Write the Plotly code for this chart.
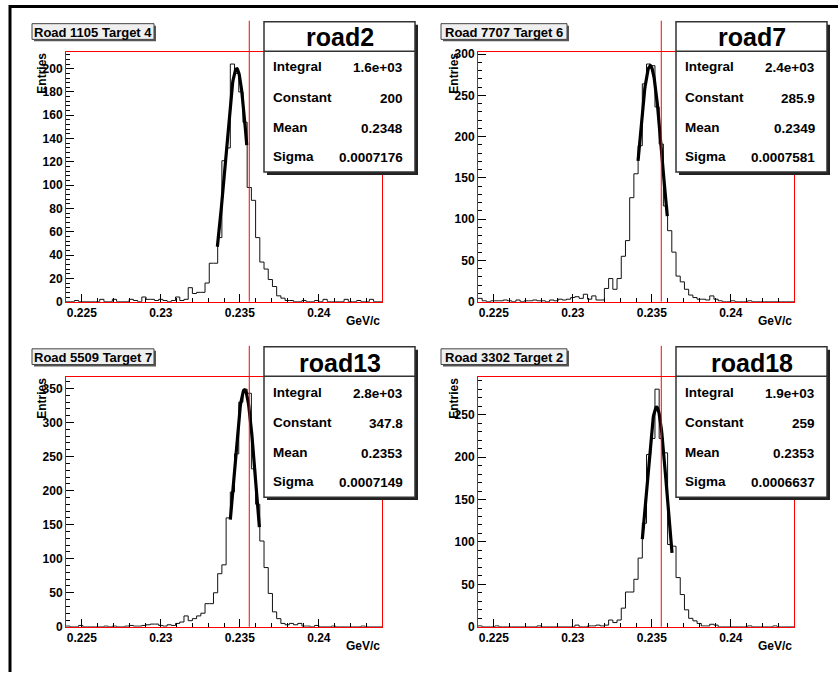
import numpy as np
import plotly.graph_objects as go

W, H = 838, 679
X_MIN, X_MAX, N_BINS = 0.224, 0.244, 75

# ---------------- data ----------------
pad_titles = ["Road 1105 Target 4", "Road 7707 Target 6", "Road 5509 Target 7", "Road 3302 Target 2"]
stat_names = ["road2", "road7", "road13", "road18"]
integral_txt = ["1.6e+03", "2.4e+03", "2.8e+03", "1.9e+03"]
constant_txt = ["200", "285.9", "347.8", "259"]
mean_txt = ["0.2348", "0.2349", "0.2353", "0.2353"]
sigma_txt = ["0.0007176", "0.0007581", "0.0007149", "0.0006637"]
constants = [200.0, 285.9, 347.8, 259.0]
means = [0.2348, 0.2349, 0.2353, 0.2353]
sigmas = [0.0007176, 0.0007581, 0.0007149, 0.0006637]
fit_lo = [0.23358, 0.23413, 0.2344, 0.2344]
fit_hi = [0.23544, 0.23598, 0.23624, 0.23628]
ref_value = 0.2356
x_tick_vals = [0.225, 0.23, 0.235, 0.24]
x_tick_text = ["0.225", "0.23", "0.235", "0.24"]
y_major = [20, 50, 50, 50]
y_minor = [4, 10, 10, 10]

counts_road2 = [0, 0, 1, 0, 0, 0, 0, 0, 2, 0,
                0, 2, 0, 0, 0, 2, 1, 0, 4, 2,
                2, 1, 2, 1, 0, 1, 4, 1, 2, 12,
                7, 8, 8, 16, 33, 33, 55, 121, 132, 204,
                196, 180, 154, 98, 87, 55, 34, 28, 19, 13,
                5, 3, 1, 1, 0, 0, 1, 0, 0, 1,
                0, 2, 0, 0, 0, 0, 2, 0, 0, 1, 0, 0, 2, 0, 0]
counts_road7 = [4, 1, 0, 1, 1, 1, 2, 1, 0, 2,
                0, 1, 1, 2, 1, 1, 0, 2, 1, 3,
                2, 3, 5, 6, 4, 9, 3, 7, 2, 2,
                16, 28, 15, 28, 55, 74, 126, 155, 189, 264,
                288, 286, 236, 191, 116, 86, 60, 31, 24, 15,
                8, 5, 3, 3, 2, 7, 3, 1, 0, 0,
                1, 0, 0, 0, 1, 0, 0, 0, 0, 0, 0, 0, 0, 0, 0]
counts_road13 = [1, 0, 0, 2, 0, 0, 0, 0, 0, 1,
                 0, 1, 0, 0, 1, 2, 1, 1, 2, 3,
                 4, 4, 2, 1, 3, 2, 5, 7, 16, 9,
                 12, 16, 20, 34, 34, 50, 78, 91, 160, 198,
                 254, 330, 349, 343, 232, 180, 126, 87, 49, 22,
                 12, 5, 3, 5, 3, 5, 1, 1, 0, 2,
                 0, 0, 0, 1, 0, 0, 0, 0, 0, 0, 1, 0, 0, 0, 0]
counts_road18 = [1, 0, 0, 0, 1, 0, 0, 0, 0, 0,
                 0, 0, 0, 0, 1, 0, 0, 0, 0, 0,
                 0, 0, 0, 2, 0, 0, 1, 1, 2, 1,
                 2, 8, 5, 8, 22, 41, 41, 56, 81, 122,
                 203, 222, 280, 222, 205, 97, 95, 58, 38, 20,
                 10, 7, 4, 1, 1, 3, 2, 0, 0, 0,
                 0, 0, 0, 0, 1, 0, 0, 0, 0, 0, 1, 0, 0, 0, 0]
all_counts = [counts_road2, counts_road7, counts_road13, counts_road18]

# ---------------- layout helpers ----------------
FONT = "Liberation Sans"
pad_off = [(0, 0), (412, 0), (0, 331), (412, 331)]
title_boxes = [(32, 154), (441, 567), (32, 154), (441, 567)]


def px(x):
    return x / W


def py(y):
    return 1 - y / H


fig = go.Figure()
shapes = []
annotations = []
layout = {}
bw = (X_MAX - X_MIN) / N_BINS
edges = [X_MIN + i * bw for i in range(N_BINS + 1)]

for k in range(4):
    ox, oy = pad_off[k]
    sfx = "" if k == 0 else str(k + 1)
    xa, ya = "x" + sfx, "y" + sfx
    counts = all_counts[k]
    ymax = 1.05 * max(counts)

    fl, fr, ft, fb = 66 + ox, 382 + ox, 48 + oy, 302 + oy
    layout["xaxis" + sfx] = dict(
        domain=[px(fl), px(fr)], anchor=ya, range=[X_MIN, X_MAX],
        tickvals=x_tick_vals, ticktext=x_tick_text,
        ticks="inside", ticklen=8, tickcolor="black", tickwidth=1,
        minor=dict(dtick=0.001, tick0=X_MIN, ticks="inside", ticklen=4, tickcolor="black", tickwidth=1, showgrid=False),
        showline=True, linecolor="red", linewidth=1, mirror=True,
        showgrid=False, zeroline=False,
        tickfont=dict(family=FONT, size=12, color="black", weight="bold"),
    )
    layout["yaxis" + sfx] = dict(
        domain=[py(fb), py(ft)], anchor=xa, range=[0, ymax],
        dtick=y_major[k], tick0=0,
        ticks="inside", ticklen=8, tickcolor="black", tickwidth=1,
        minor=dict(dtick=y_minor[k], tick0=0, ticks="inside", ticklen=4, tickcolor="black", tickwidth=1, showgrid=False),
        showline=True, linecolor="red", linewidth=1, mirror=True,
        showgrid=False, zeroline=False,
        tickfont=dict(family=FONT, size=12, color="black", weight="bold"),
    )

    # histogram outline
    fig.add_trace(go.Scatter(
        x=edges, y=list(counts) + [counts[-1]], mode="lines",
        line=dict(color="#111111", width=1, shape="hv"),
        xaxis=xa, yaxis=ya, showlegend=False, hoverinfo="skip"))

    # gaussian fit curve
    xf = np.linspace(fit_lo[k], fit_hi[k], 80)
    yf = constants[k] * np.exp(-0.5 * ((xf - means[k]) / sigmas[k]) ** 2)
    fig.add_trace(go.Scatter(
        x=xf, y=yf, mode="lines", line=dict(color="black", width=3.2),
        xaxis=xa, yaxis=ya, showlegend=False, hoverinfo="skip"))

    # red reference line
    shapes.append(dict(type="line", xref=xa, yref="paper", x0=ref_value, x1=ref_value,
                       y0=py(fb), y1=py(16 + oy), line=dict(color="red", width=1), layer="above"))

    # title box
    tx0, tx1 = title_boxes[k]
    ty0, ty1 = 19 + oy, 35 + oy
    shapes.append(dict(type="rect", xref="paper", yref="paper", x0=px(tx0 + 2), x1=px(tx1 + 2),
                       y0=py(ty1 + 2), y1=py(ty0 + 2), fillcolor="#555555", line=dict(width=0), layer="above"))
    shapes.append(dict(type="rect", xref="paper", yref="paper", x0=px(tx0), x1=px(tx1),
                       y0=py(ty1), y1=py(ty0), fillcolor="#efefef", line=dict(color="#444444", width=1), layer="above"))
    annotations.append(dict(xref="paper", yref="paper", x=px((tx0 + tx1) / 2), y=py((ty0 + ty1) / 2 + 0.5),
                            xanchor="center", yanchor="middle", showarrow=False, text=pad_titles[k],
                            font=dict(family=FONT, size=13, color="black", weight="bold")))

    # stats box
    sx0, sx1, sy0, sy1 = 264 + ox, 415 + ox, 17 + oy, 170 + oy
    shapes.append(dict(type="rect", xref="paper", yref="paper", x0=px(sx0 + 3), x1=px(sx1 + 3),
                       y0=py(sy1 + 3), y1=py(sy0 + 3), fillcolor="#222222", line=dict(width=0), layer="above"))
    shapes.append(dict(type="rect", xref="paper", yref="paper", x0=px(sx0), x1=px(sx1),
                       y0=py(sy1), y1=py(sy0), fillcolor="white", line=dict(color="#333333", width=1.5), layer="above"))
    shapes.append(dict(type="line", xref="paper", yref="paper", x0=px(sx0), x1=px(sx1),
                       y0=py(sy0 + 30), y1=py(sy0 + 30), line=dict(color="#333333", width=1.5), layer="above"))
    annotations.append(dict(xref="paper", yref="paper", x=px((sx0 + sx1) / 2), y=py(sy0 + 16),
                            xanchor="center", yanchor="middle", showarrow=False, text=stat_names[k],
                            font=dict(family=FONT, size=25, color="black", weight="bold")))
    rows = [("Integral", integral_txt[k]), ("Constant", constant_txt[k]),
            ("Mean", mean_txt[k]), ("Sigma", sigma_txt[k])]
    row_y = [46, 77, 108, 137]
    for (lab, val), ry in zip(rows, row_y):
        annotations.append(dict(xref="paper", yref="paper", x=px(sx0 + 7), y=py(sy0 + ry),
                                xanchor="left", yanchor="middle", showarrow=False, text=lab,
                                font=dict(family=FONT, size=13.5, color="black", weight="bold")))
        annotations.append(dict(xref="paper", yref="paper", x=px(sx1 - 10), y=py(sy0 + ry + 1),
                                xanchor="right", yanchor="middle", showarrow=False, text=val,
                                font=dict(family=FONT, size=13.5, color="black", weight="bold")))

    # axis titles
    annotations.append(dict(xref="paper", yref="paper", x=px(42 + ox), y=py(47 + oy),
                            xanchor="center", yanchor="top", showarrow=False, text="Entries", textangle=-90,
                            font=dict(family=FONT, size=12, color="black", weight="bold")))
    annotations.append(dict(xref="paper", yref="paper", x=px(382 + ox), y=py(322 + oy),
                            xanchor="right", yanchor="middle", showarrow=False, text="GeV/c",
                            font=dict(family=FONT, size=12, color="black", weight="bold")))

# canvas border (left and top)
shapes.append(dict(type="line", xref="paper", yref="paper", x0=px(10), x1=px(10), y0=0, y1=1,
                   line=dict(color="black", width=3), layer="above"))
shapes.append(dict(type="line", xref="paper", yref="paper", x0=px(10), x1=1, y0=py(1.5), y1=py(1.5),
                   line=dict(color="black", width=3), layer="above"))

fig.update_layout(
    width=W, height=H, margin=dict(l=0, r=0, t=0, b=0),
    paper_bgcolor="white", plot_bgcolor="white",
    showlegend=False, shapes=shapes, annotations=annotations,
    **layout,
)
fig.write_html("out.html", config={"displayModeBar": False})
